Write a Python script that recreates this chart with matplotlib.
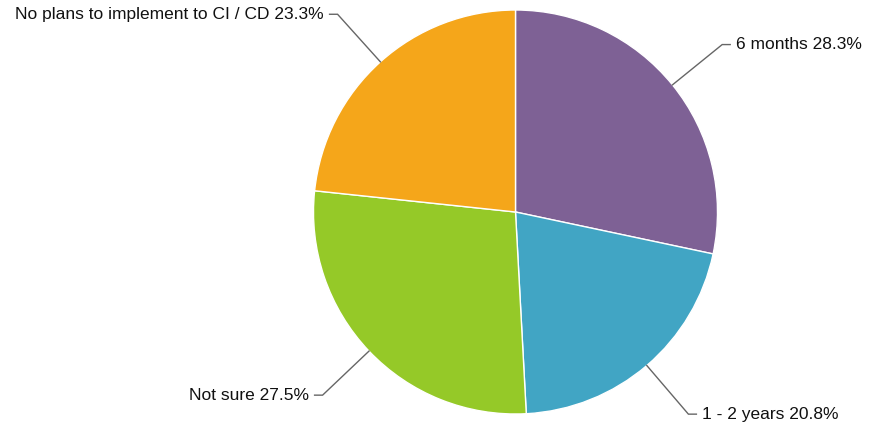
import numpy as np
import matplotlib
matplotlib.use("Agg")
import matplotlib.pyplot as plt

labels = ["6 months", "1 - 2 years", "Not sure", "No plans to implement to CI / CD"]
values = [28.3, 20.8, 27.5, 23.3]
colors = ["#7e6195", "#41a5c4", "#95c928", "#f5a61a"]

plt.rcParams["font.family"] = ["Liberation Sans", "DejaVu Sans"]

W, H = 869, 429
fig = plt.figure(figsize=(W / 100, H / 100), dpi=100)
ax = fig.add_axes([0, 0, 1, 1])

cx, cy, r = 515.5, H - 212, 202
wedges, _ = ax.pie(values, colors=colors, startangle=90, counterclock=False,
                   center=(cx, cy), radius=r, frame=True,
                   wedgeprops=dict(edgecolor="white", linewidth=1))
ax.set_xlim(0, W)
ax.set_ylim(0, H)
ax.set_aspect("equal")
ax.axis("off")

# leader lines + labels
for w, lab, v in zip(wedges, labels, values):
    ang = np.deg2rad((w.theta1 + w.theta2) / 2)
    c, s = np.cos(ang), np.sin(ang)
    x0, y0 = cx + r * c, cy + r * s
    x1, y1 = cx + 266 * c, cy + 266 * s
    side = 1 if c > 0 else -1
    x2 = x1 + side * 8
    ax.plot([x0, x1, x2], [y0, y1, y1], color="#666666", lw=1, solid_joinstyle="miter")
    ax.text(x2 + side * 6, y1, f"{lab} {v}%", ha="left" if side > 0 else "right",
            va="center", fontsize=12.5, color="#111111")

fig.savefig("out.png", dpi=100)
